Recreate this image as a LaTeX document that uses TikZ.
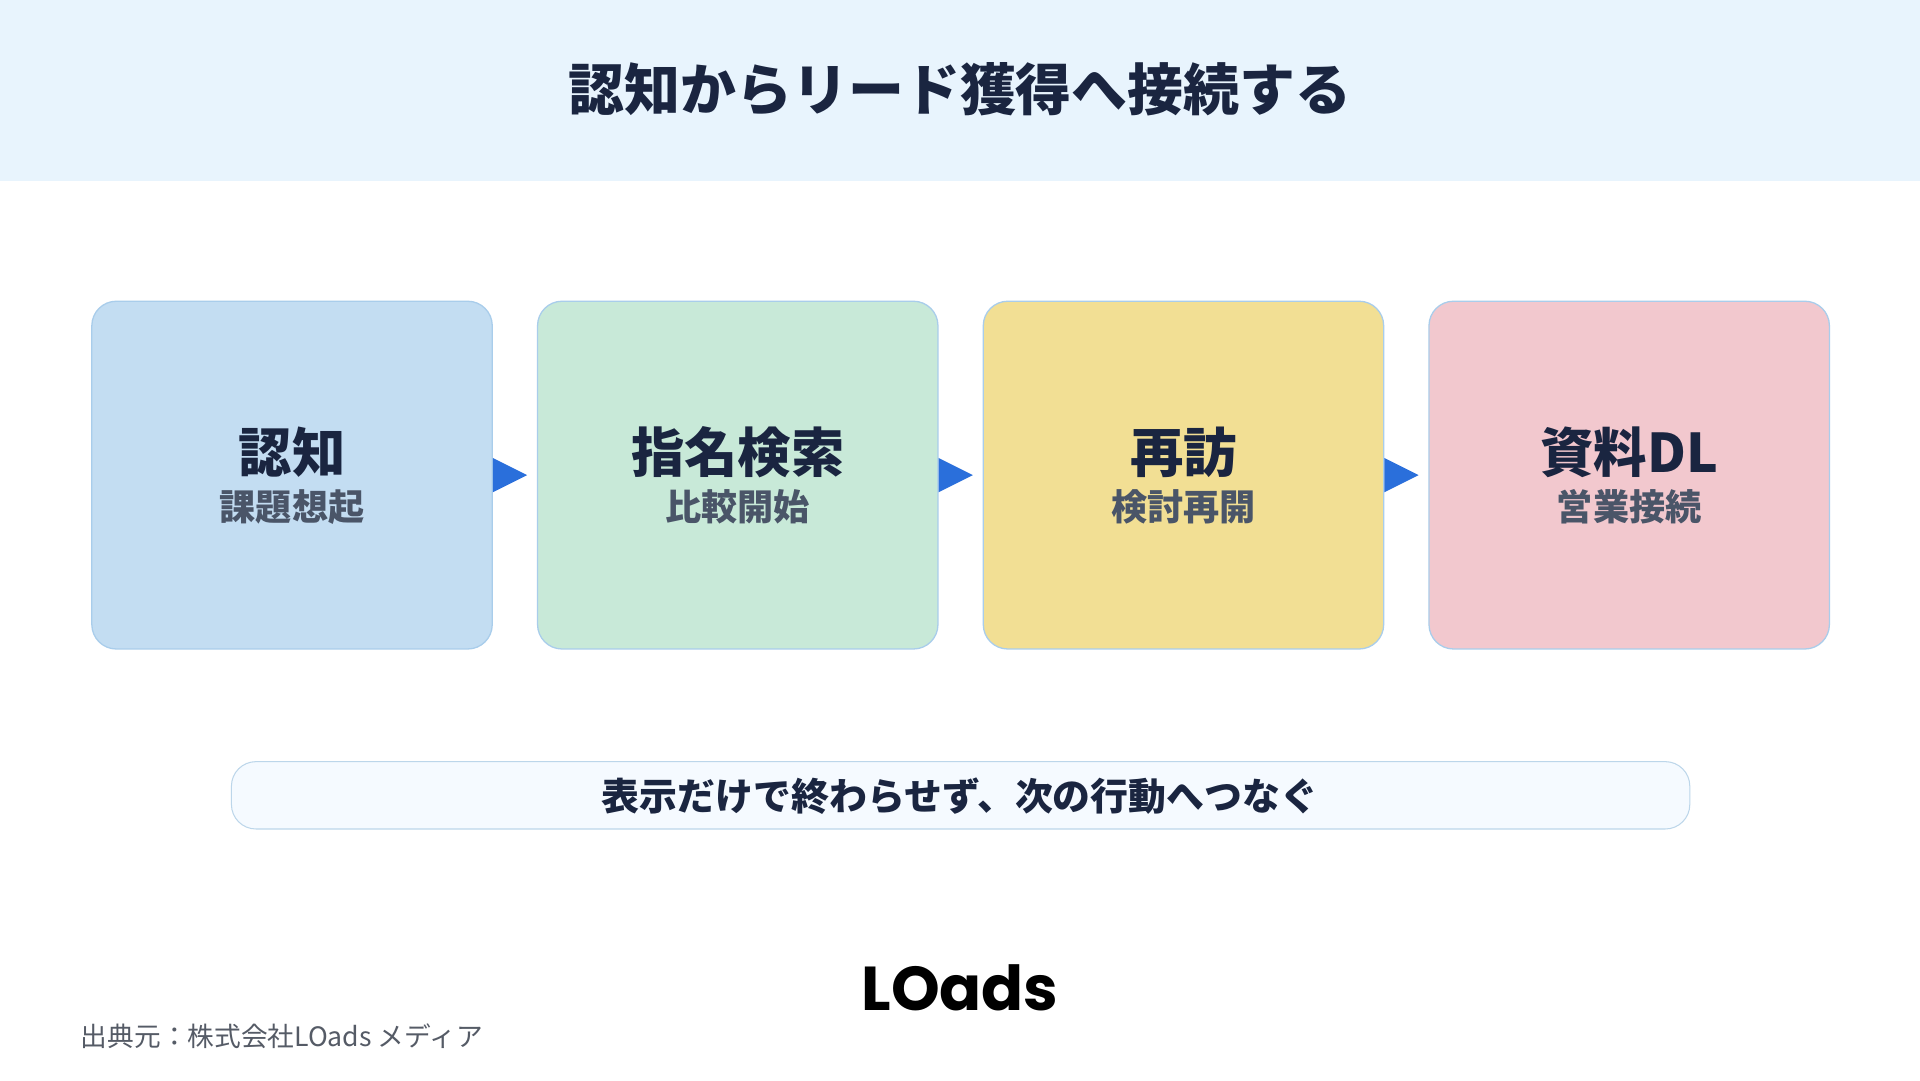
\documentclass[tikz,border=0pt]{standalone}
\usepackage{fontspec}
\setmainfont{Noto Sans CJK JP}
\newfontfamily\logofont{Poppins}
\definecolor{hdr}{HTML}{E8F4FD}
\definecolor{navy}{HTML}{1A2540}
\definecolor{subg}{HTML}{4A5568}
\definecolor{bord}{HTML}{A9CDEB}
\definecolor{fa}{HTML}{C3DDF2}
\definecolor{fb}{HTML}{C8E9D8}
\definecolor{fc}{HTML}{F2DF94}
\definecolor{fd}{HTML}{F2C8CE}
\definecolor{arr}{HTML}{2A6FDB}
\definecolor{pill}{HTML}{F5FAFF}
\definecolor{pillb}{HTML}{BCD6EA}
\definecolor{foot}{HTML}{555B66}
\begin{document}
\begin{tikzpicture}[x=0.05cm,y=-0.05cm,
  card/.style={draw=bord,line width=1.5pt,rounded corners=20*0.05cm,minimum width=327*0.05cm,minimum height=284*0.05cm,inner sep=0},
  mainlbl/.style={font=\fontsize{62}{66}\selectfont\bfseries,text=navy},
  sublbl/.style={font=\fontsize{42}{46}\selectfont\bfseries,text=subg},
  tri/.style={fill=arr}]
\useasboundingbox (0,0) rectangle (1568,882);
\fill[white] (0,0) rectangle (1568,882);
\fill[hdr] (0,0) rectangle (1568,148);
\node[font=\fontsize{65}{70}\selectfont\bfseries,text=navy] (title) at (784,73) {認知からリード獲得へ接続する};
\foreach \i/\x/\f/\m/\s in {1/238.5/fa/認知/課題想起,2/602.5/fb/指名検索/比較開始,3/966.5/fc/再訪/検討再開,4/1330.5/fd/資料DL/営業接続}{
  \node[card,fill=\f] (c\i) at (\x,388) {};
  \node[mainlbl] (m\i) at (\x,369) {\m};
  \node[sublbl] (s\i) at (\x,414) {\s};
}
\foreach \a/\b in {c1/c2,c2/c3,c3/c4}{
  \fill[arr] ([yshift=0.7cm]\a.east) -- ([xshift=1.4cm]\a.east) -- ([yshift=-0.7cm]\a.east) -- cycle;
}
\node[draw=pillb,line width=1.2pt,fill=pill,rounded corners=20*0.05cm,minimum width=1191*0.05cm,minimum height=55*0.05cm] (pill) at (784.5,649.5) {};
\node[font=\fontsize{44}{48}\selectfont\bfseries,text=navy] (pt) at (784,650) {表示だけで終わらせず、次の行動へつなぐ};
\node[font=\logofont\fontsize{72}{76}\selectfont\bfseries,text=black] (logo) at (784,807) {LOads};
\node[font=\fontsize{31}{34}\selectfont,text=foot,anchor=west,inner sep=0] (foot) at (66,846) {出典元：株式会社LOads メディア};
\end{tikzpicture}
\end{document}
